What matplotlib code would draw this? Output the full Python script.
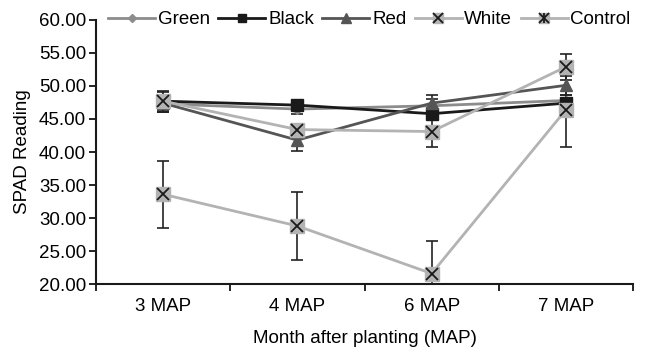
import numpy as np
import matplotlib
matplotlib.use("Agg")
import matplotlib.pyplot as plt
from matplotlib.ticker import FormatStrFormatter, FixedLocator

plt.rcParams['font.family'] = ['Liberation Sans', 'DejaVu Sans']
plt.rcParams['font.size'] = 13.5

months = ["3 MAP", "4 MAP", "6 MAP", "7 MAP"]

green = [47.3, 46.5, 47.0, 47.8]
green_err = [1.2, 0.8, 1.0, 0.8]
black = [47.7, 47.1, 45.8, 47.4]
black_err = [1.6, 0.8, 0.8, 0.8]
red = [47.4, 41.8, 47.4, 50.1]
red_err = [1.3, 1.6, 1.3, 1.4]
white = [47.7, 43.4, 43.1, 52.9]
white_err = [1.4, 0.8, 2.4, 2.0]
control = [33.6, 28.8, 21.6, 46.4]
control_err = [5.1, 5.2, 4.9, 5.6]

x = np.arange(len(months))

fig = plt.figure(figsize=(6.48, 3.56), dpi=100)
ax = fig.add_axes([0.148, 0.202, 0.829, 0.742])

ebkw = dict(ecolor='#222222', elinewidth=1.2, capsize=4, capthick=1.2)

h_green, = ax.plot(x, green, color='#8c8c8c', lw=2, marker='D', ms=5,
                   mfc='#8c8c8c', mec='#8c8c8c', zorder=4)
ax.errorbar(x, green, yerr=green_err, fmt='none', zorder=2, **ebkw)

h_black, = ax.plot(x, black, color='#1a1a1a', lw=2, marker='s', ms=8,
                   mfc='#1a1a1a', mec='#1a1a1a', zorder=4)
ax.errorbar(x, black, yerr=black_err, fmt='none', zorder=2, **ebkw)

h_red, = ax.plot(x, red, color='#555555', lw=2, marker='^', ms=9,
                 mfc='#555555', mec='#555555', zorder=4)
ax.errorbar(x, red, yerr=red_err, fmt='none', zorder=2, **ebkw)

h_white, = ax.plot(x, white, color='#b3b3b3', lw=2, marker='s', ms=10,
                   mfc='#b3b3b3', mec='#b3b3b3', zorder=5)
h_white_x, = ax.plot(x, white, ls='none', marker='x', ms=9, mew=1.3,
                     color='#1a1a1a', zorder=6)
ax.errorbar(x, white, yerr=white_err, fmt='none', zorder=2, **ebkw)

h_ctrl, = ax.plot(x, control, color='#b3b3b3', lw=2, marker='s', ms=10,
                  mfc='#b3b3b3', mec='#b3b3b3', zorder=5)
h_ctrl_x, = ax.plot(x, control, ls='none', marker='x', ms=9, mew=1.3,
                    color='#1a1a1a', zorder=6)
h_ctrl_v, = ax.plot([], [], ls='none', marker='|', ms=9, mew=1.3,
                    color='#1a1a1a')
ax.errorbar(x, control, yerr=control_err, fmt='none', zorder=2, **ebkw)

ax.set_ylim(20, 60)
ax.set_xlim(-0.5, len(months) - 0.5)
ax.set_yticks(np.arange(20, 61, 5))
ax.yaxis.set_major_formatter(FormatStrFormatter('%.2f'))
ax.set_xticks(x)
ax.set_xticklabels(months)
ax.tick_params(axis='x', which='major', length=0, pad=10)
ax.xaxis.set_minor_locator(FixedLocator(np.arange(-0.5, len(months), 1.0)))
ax.tick_params(axis='x', which='minor', length=5, width=1.2, direction='out')
ax.tick_params(axis='y', length=5, width=1.2, direction='out', pad=2)

for s in ['top', 'right']:
    ax.spines[s].set_visible(False)
for s in ['left', 'bottom']:
    ax.spines[s].set_linewidth(1.5)
    ax.spines[s].set_color('#1a1a1a')

ax.set_ylabel("SPAD Reading", labelpad=6)
ax.set_xlabel("Month after planting (MAP)", labelpad=11)

fig.legend([h_green, h_black, h_red, (h_white, h_white_x), (h_ctrl, h_ctrl_x, h_ctrl_v)],
           ["Green", "Black", "Red", "White", "Control"],
           loc='center', bbox_to_anchor=(0.57, 0.945), ncol=5, frameon=False,
           handlelength=2.5, handletextpad=0.15, columnspacing=0.45,
           markerscale=0.75)

fig.savefig("out.png", dpi=100)
